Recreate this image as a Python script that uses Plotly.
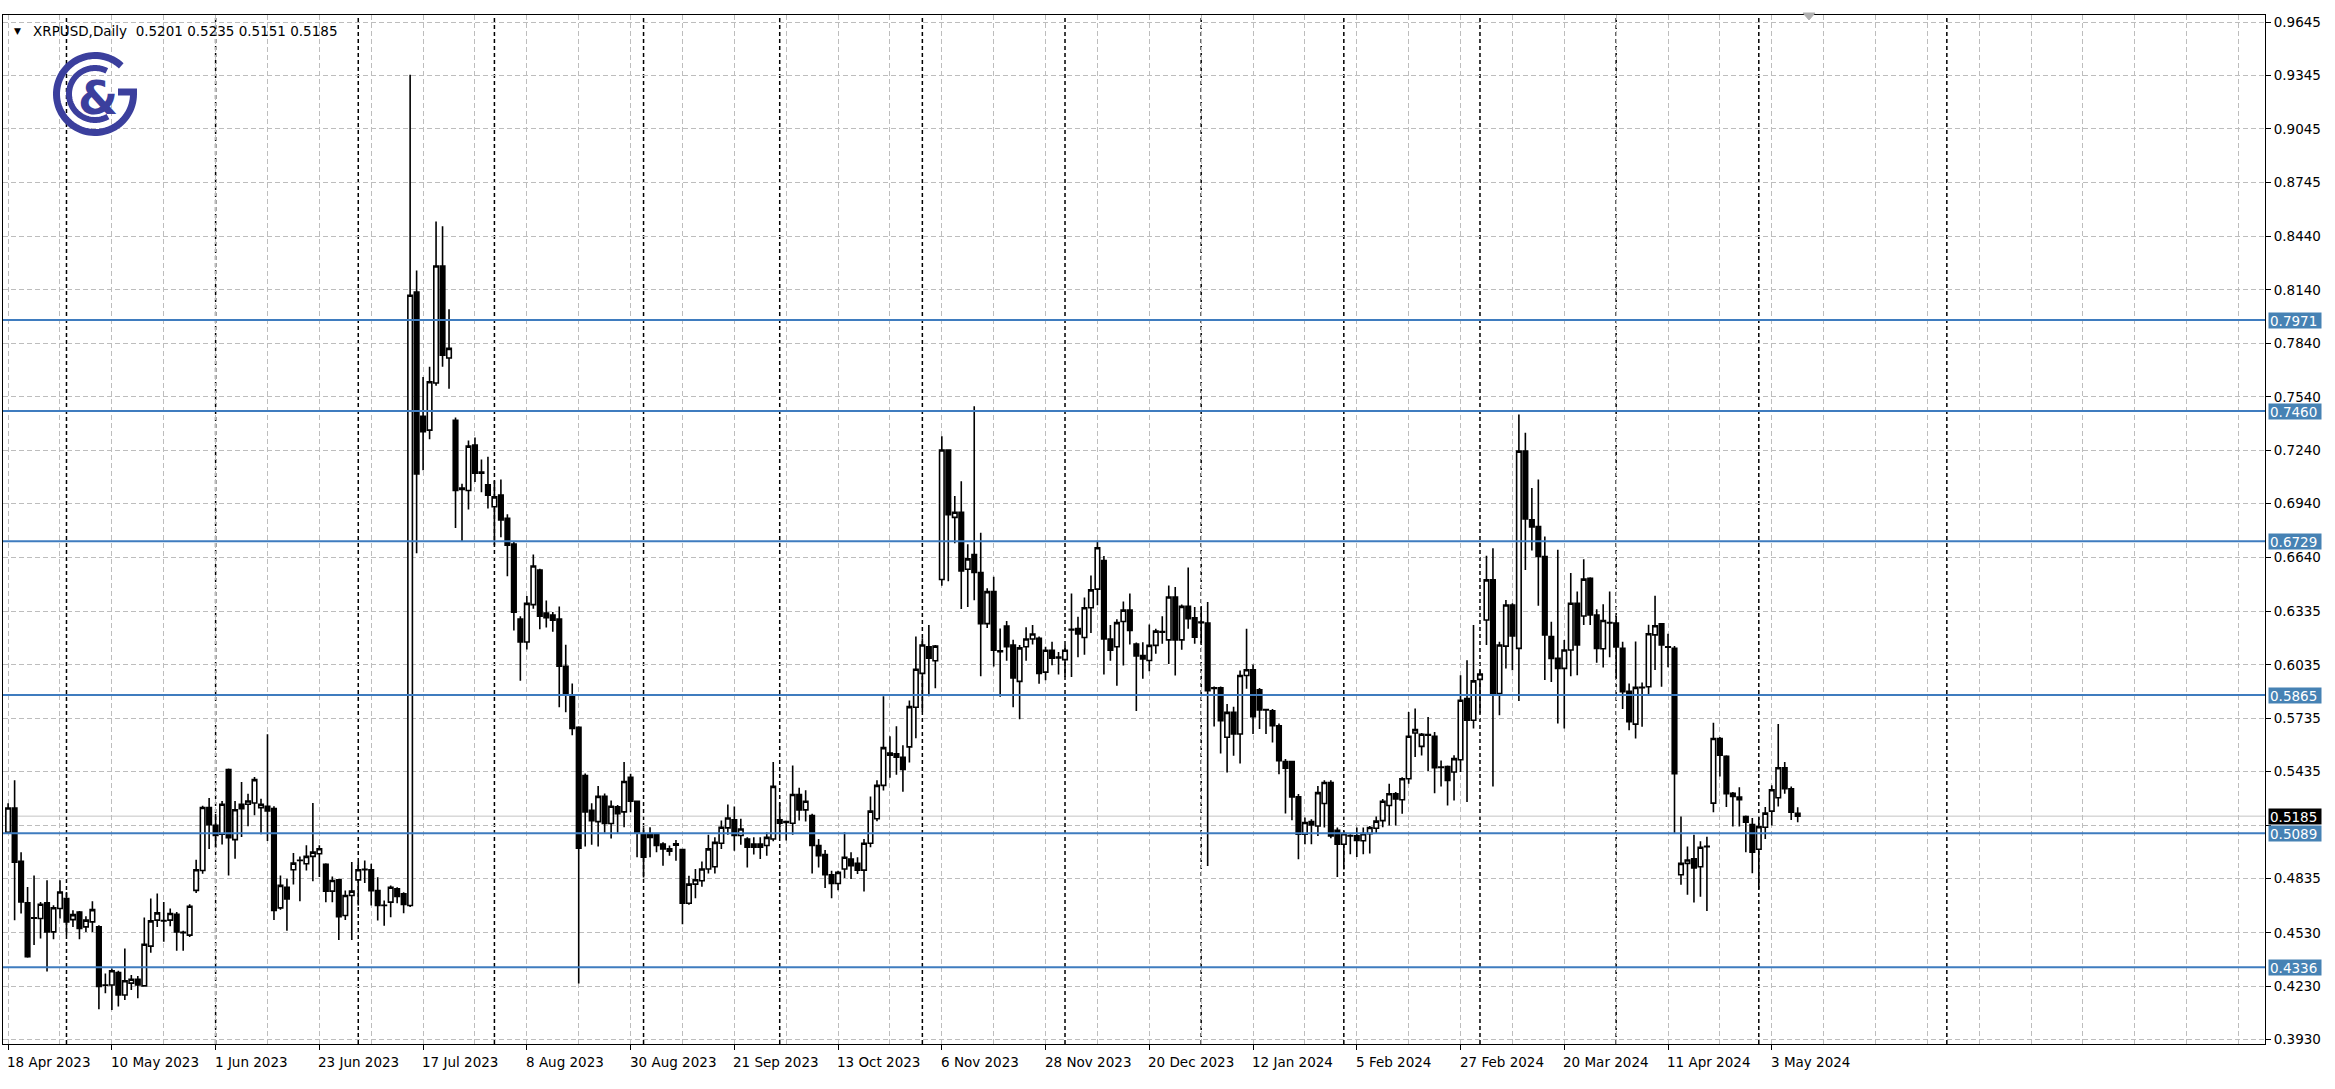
import numpy as np
import pandas as pd
import plotly.graph_objects as go

# ---------------- data ----------------
# daily (weekday) bars, broker closed on 1 Jan 2024
dates = [d for d in pd.bdate_range("2023-04-18", "2024-05-09") if d != pd.Timestamp("2024-01-01")]

opens = [
    0.5095, 0.5231, 0.4932, 0.4698, 0.4612, 0.4610, 0.4698, 0.4535, 0.4666, 0.4722,
    0.4604, 0.4647, 0.4563, 0.4591, 0.4563, 0.4237, 0.4237, 0.4306, 0.4181, 0.4247,
    0.4269, 0.4232, 0.4455, 0.4601, 0.4597, 0.4601, 0.4634, 0.4533, 0.4517, 0.4768,
    0.4880, 0.5234, 0.5133, 0.5083, 0.5447, 0.5053, 0.5252, 0.5252, 0.5259, 0.5233,
    0.5240, 0.5227, 0.4670, 0.4786, 0.4884, 0.4936, 0.4918, 0.4959, 0.4974, 0.4914,
    0.4764, 0.4827, 0.4627, 0.4739, 0.4827, 0.4884, 0.4884, 0.4767, 0.4685, 0.4702,
    0.4777, 0.4749, 0.4683, 0.8129, 0.7431, 0.7353, 0.7618, 0.8275, 0.7758, 0.7408,
    0.7020, 0.7014, 0.7269, 0.7117, 0.7046, 0.6923, 0.6988, 0.6858, 0.6713, 0.6292,
    0.6163, 0.6373, 0.6567, 0.6325, 0.6315, 0.6292, 0.6027, 0.5865, 0.5684, 0.5413,
    0.5218, 0.5154, 0.5296, 0.5144, 0.5238, 0.5209, 0.5403, 0.5269, 0.5085, 0.5080,
    0.5080, 0.5029, 0.5001, 0.5030, 0.4997, 0.4696, 0.4803, 0.4822, 0.4888, 0.4901,
    0.5033, 0.5119, 0.5164, 0.5076, 0.5057, 0.5029, 0.5029, 0.5020, 0.5057, 0.5164,
    0.5150, 0.5145, 0.5307, 0.5220, 0.5189, 0.5020, 0.4969, 0.4856, 0.4807, 0.4888,
    0.4944, 0.4920, 0.4882, 0.5033, 0.5170, 0.5358, 0.5540, 0.5535, 0.5516, 0.5574,
    0.5797, 0.5987, 0.6136, 0.6058, 0.6514, 0.7241, 0.6863, 0.6892, 0.6572, 0.6654,
    0.6553, 0.6266, 0.6446, 0.6108, 0.6252, 0.6146, 0.5942, 0.6136, 0.6180, 0.6184,
    0.5994, 0.6117, 0.6078, 0.6064, 0.6231, 0.6239, 0.6188, 0.6355, 0.6460, 0.6620,
    0.6180, 0.6136, 0.6278, 0.6342, 0.6152, 0.6087, 0.6059, 0.6144, 0.6218, 0.6175,
    0.6416, 0.6175, 0.6363, 0.6299, 0.6275, 0.6269, 0.5906, 0.5906, 0.5628, 0.5768,
    0.5646, 0.5975, 0.6007, 0.5894, 0.5783, 0.5777, 0.5693, 0.5492, 0.5492, 0.5293,
    0.5083, 0.5155, 0.5130, 0.5256, 0.5374, 0.5106, 0.5027, 0.5076, 0.5074, 0.5047,
    0.5087, 0.5117, 0.5160, 0.5245, 0.5311, 0.5277, 0.5395, 0.5652, 0.5577, 0.5640,
    0.5634, 0.5461, 0.5464, 0.5433, 0.5502, 0.5845, 0.5724, 0.5953, 0.6287, 0.6512,
    0.5874, 0.6140, 0.6371, 0.6127, 0.7235, 0.6850, 0.6812, 0.6643, 0.6193, 0.6071,
    0.6015, 0.6118, 0.6381, 0.6309, 0.6521, 0.6315, 0.6125, 0.6272, 0.6270, 0.6128,
    0.5886, 0.5702, 0.5906, 0.5912, 0.6203, 0.6265, 0.6136, 0.6128, 0.4856, 0.4920,
    0.4945, 0.4901, 0.5016, 0.5258, 0.5621, 0.5521, 0.5314, 0.5292, 0.5183, 0.5138,
    0.4999, 0.5123, 0.5213, 0.5288, 0.5457, 0.5339, 0.5201,
]
highs = [
    0.5257, 0.5387, 0.4982, 0.4787, 0.4852, 0.4703, 0.4825, 0.4684, 0.4825, 0.4759,
    0.4657, 0.4653, 0.4623, 0.4707, 0.4573, 0.4302, 0.4330, 0.4317, 0.4442, 0.4293,
    0.4287, 0.4616, 0.4722, 0.4750, 0.4703, 0.4666, 0.4647, 0.4541, 0.4690, 0.4940,
    0.5244, 0.5287, 0.5199, 0.5270, 0.5452, 0.5270, 0.5377, 0.5311, 0.5405, 0.5283,
    0.5645, 0.5240, 0.4852, 0.4833, 0.4978, 0.4959, 0.5021, 0.5259, 0.5021, 0.4921,
    0.4846, 0.4833, 0.4767, 0.4927, 0.4927, 0.4936, 0.4917, 0.4842, 0.4711, 0.4796,
    0.4786, 0.4758, 0.9349, 0.8249, 0.7651, 0.7709, 0.8524, 0.8498, 0.8032, 0.7424,
    0.7052, 0.7295, 0.7311, 0.7188, 0.7204, 0.7069, 0.7075, 0.6881, 0.6729, 0.6308,
    0.6422, 0.6655, 0.6574, 0.6396, 0.6331, 0.6363, 0.6147, 0.5930, 0.5690, 0.5425,
    0.5257, 0.5354, 0.5312, 0.5273, 0.5247, 0.5489, 0.5423, 0.5273, 0.5123, 0.5123,
    0.5089, 0.5038, 0.5020, 0.5051, 0.4999, 0.4850, 0.4888, 0.4931, 0.5081, 0.5066,
    0.5160, 0.5251, 0.5239, 0.5170, 0.5066, 0.5066, 0.5066, 0.5095, 0.5489, 0.5262,
    0.5160, 0.5470, 0.5345, 0.5330, 0.5198, 0.5057, 0.4995, 0.4878, 0.4878, 0.5095,
    0.4982, 0.4954, 0.5057, 0.5296, 0.5386, 0.5859, 0.5634, 0.5690, 0.5583, 0.5835,
    0.6194, 0.6184, 0.6258, 0.6146, 0.7318, 0.7245, 0.6983, 0.7066, 0.6712, 0.7487,
    0.6776, 0.6465, 0.6529, 0.6239, 0.6281, 0.6175, 0.6146, 0.6246, 0.6258, 0.6194,
    0.6136, 0.6165, 0.6107, 0.6146, 0.6436, 0.6305, 0.6413, 0.6537, 0.6731, 0.6646,
    0.6258, 0.6291, 0.6390, 0.6436, 0.6160, 0.6162, 0.6262, 0.6237, 0.6307, 0.6481,
    0.6472, 0.6374, 0.6581, 0.6359, 0.6359, 0.6387, 0.5913, 0.5913, 0.5815, 0.5800,
    0.6003, 0.6237, 0.6037, 0.5905, 0.5787, 0.5787, 0.5706, 0.5506, 0.5496, 0.5309,
    0.5177, 0.5168, 0.5355, 0.5387, 0.5387, 0.5121, 0.5102, 0.5083, 0.5121, 0.5121,
    0.5130, 0.5183, 0.5282, 0.5367, 0.5320, 0.5404, 0.5770, 0.5789, 0.5652, 0.5742,
    0.5658, 0.5498, 0.5470, 0.5527, 0.5977, 0.6061, 0.6259, 0.6005, 0.6647, 0.6690,
    0.6165, 0.6399, 0.6381, 0.7441, 0.7338, 0.7028, 0.7075, 0.6756, 0.6277, 0.6681,
    0.6174, 0.6550, 0.6446, 0.6628, 0.6527, 0.6347, 0.6375, 0.6446, 0.6310, 0.6165,
    0.5930, 0.6166, 0.5935, 0.6260, 0.6423, 0.6269, 0.6209, 0.6141, 0.5183, 0.5014,
    0.5081, 0.5044, 0.5070, 0.5709, 0.5630, 0.5527, 0.5320, 0.5348, 0.5189, 0.5175,
    0.5179, 0.5236, 0.5358, 0.5702, 0.5489, 0.5352, 0.5235,
]
lows = [
    0.5085, 0.4601, 0.4638, 0.4390, 0.4461, 0.4498, 0.4312, 0.4493, 0.4610, 0.4517,
    0.4563, 0.4493, 0.4535, 0.4535, 0.4101, 0.4191, 0.4097, 0.4116, 0.4153, 0.4209,
    0.4163, 0.4228, 0.4418, 0.4563, 0.4479, 0.4567, 0.4429, 0.4429, 0.4507, 0.4754,
    0.4862, 0.5001, 0.5011, 0.5026, 0.4852, 0.4946, 0.5068, 0.5128, 0.5190, 0.5083,
    0.5045, 0.4602, 0.4659, 0.4542, 0.4801, 0.4707, 0.4880, 0.4820, 0.4843, 0.4702,
    0.4702, 0.4490, 0.4602, 0.4490, 0.4683, 0.4809, 0.4683, 0.4599, 0.4570, 0.4617,
    0.4696, 0.4640, 0.4675, 0.6661, 0.7127, 0.7301, 0.7602, 0.7709, 0.7586, 0.6803,
    0.6729, 0.6907, 0.7062, 0.7004, 0.6913, 0.6706, 0.6752, 0.6532, 0.6228, 0.5946,
    0.6121, 0.6350, 0.6234, 0.6244, 0.6221, 0.5797, 0.5768, 0.5639, 0.4245, 0.5015,
    0.5024, 0.5015, 0.5092, 0.5060, 0.5092, 0.5123, 0.5207, 0.4954, 0.4841, 0.4954,
    0.4982, 0.4907, 0.4963, 0.4935, 0.4578, 0.4687, 0.4724, 0.4788, 0.4863, 0.4863,
    0.5001, 0.5081, 0.4991, 0.5025, 0.4897, 0.4969, 0.4944, 0.4963, 0.5044, 0.5066,
    0.5048, 0.5081, 0.5160, 0.5155, 0.4863, 0.4897, 0.4781, 0.4724, 0.4769, 0.4837,
    0.4832, 0.4860, 0.4762, 0.5010, 0.5157, 0.5329, 0.5400, 0.5418, 0.5322, 0.5486,
    0.5622, 0.5773, 0.5859, 0.5903, 0.6479, 0.6504, 0.6717, 0.6349, 0.6359, 0.6398,
    0.5971, 0.6242, 0.6025, 0.5855, 0.6058, 0.5797, 0.5729, 0.6058, 0.6149, 0.5928,
    0.5948, 0.6033, 0.5981, 0.5967, 0.5967, 0.6078, 0.6091, 0.6213, 0.6369, 0.5981,
    0.6058, 0.5917, 0.6031, 0.6149, 0.5776, 0.5956, 0.5999, 0.6097, 0.6153, 0.6040,
    0.5975, 0.6119, 0.6237, 0.6153, 0.6153, 0.4905, 0.5688, 0.5537, 0.5430, 0.5524,
    0.5481, 0.5900, 0.5646, 0.5674, 0.5646, 0.5599, 0.5421, 0.5200, 0.5162, 0.4943,
    0.5027, 0.5027, 0.5074, 0.5121, 0.5061, 0.4843, 0.4886, 0.4971, 0.4956, 0.4971,
    0.4975, 0.5086, 0.5123, 0.5132, 0.5132, 0.5198, 0.5367, 0.5517, 0.5526, 0.5438,
    0.5314, 0.5352, 0.5245, 0.5273, 0.5433, 0.5264, 0.5677, 0.5761, 0.6146, 0.5352,
    0.5752, 0.6014, 0.6005, 0.5832, 0.6568, 0.6677, 0.6366, 0.5949, 0.5939, 0.5705,
    0.5677, 0.5971, 0.5977, 0.6258, 0.6259, 0.6046, 0.6020, 0.6078, 0.5960, 0.5787,
    0.5668, 0.5621, 0.5687, 0.5871, 0.6006, 0.5912, 0.6021, 0.5085, 0.4800, 0.4743,
    0.4700, 0.4732, 0.4653, 0.5207, 0.5408, 0.5236, 0.5127, 0.5127, 0.4982, 0.4864,
    0.4775, 0.5057, 0.5132, 0.5239, 0.5311, 0.5164, 0.5151,
]
closes = [
    0.5231, 0.4927, 0.4703, 0.4396, 0.4614, 0.4690, 0.4535, 0.4671, 0.4759, 0.4591,
    0.4632, 0.4554, 0.4601, 0.4660, 0.4228, 0.4235, 0.4317, 0.4181, 0.4261, 0.4269,
    0.4237, 0.4466, 0.4597, 0.4642, 0.4598, 0.4638, 0.4535, 0.4530, 0.4679, 0.4884,
    0.5234, 0.5137, 0.5077, 0.5252, 0.5064, 0.5221, 0.5227, 0.5270, 0.5390, 0.5252,
    0.5214, 0.4655, 0.4796, 0.4720, 0.4921, 0.4937, 0.4959, 0.4983, 0.5002, 0.4764,
    0.4824, 0.4621, 0.4739, 0.4764, 0.4884, 0.4886, 0.4767, 0.4683, 0.4683, 0.4786,
    0.4734, 0.4689, 0.8110, 0.7107, 0.7344, 0.7625, 0.8275, 0.7774, 0.7812, 0.7014,
    0.7027, 0.7263, 0.7111, 0.7111, 0.6988, 0.6978, 0.6849, 0.6706, 0.6331, 0.6163,
    0.6380, 0.6590, 0.6308, 0.6299, 0.6286, 0.6027, 0.5872, 0.5678, 0.5005, 0.5209,
    0.5160, 0.5296, 0.5144, 0.5241, 0.5199, 0.5380, 0.5269, 0.5089, 0.4954, 0.5066,
    0.5020, 0.5001, 0.4988, 0.5022, 0.4696, 0.4803, 0.4828, 0.4888, 0.5001, 0.5038,
    0.5123, 0.5175, 0.5076, 0.5113, 0.5010, 0.5010, 0.5011, 0.5066, 0.5352, 0.5145,
    0.5155, 0.5307, 0.5220, 0.5269, 0.5020, 0.4963, 0.4856, 0.4807, 0.4869, 0.4954,
    0.4907, 0.4882, 0.5033, 0.5213, 0.5358, 0.5570, 0.5527, 0.5516, 0.5447, 0.5800,
    0.6010, 0.6146, 0.6072, 0.6140, 0.7241, 0.6878, 0.6892, 0.6562, 0.6630, 0.6553,
    0.6266, 0.6446, 0.6117, 0.6113, 0.6136, 0.5961, 0.6130, 0.6180, 0.6208, 0.5987,
    0.6117, 0.6072, 0.6074, 0.6117, 0.6235, 0.6208, 0.6355, 0.6456, 0.6692, 0.6180,
    0.6117, 0.6272, 0.6342, 0.6228, 0.6085, 0.6068, 0.6144, 0.6224, 0.6222, 0.6416,
    0.6175, 0.6363, 0.6294, 0.6190, 0.6271, 0.5890, 0.5902, 0.5721, 0.5768, 0.5646,
    0.5975, 0.6007, 0.5744, 0.5781, 0.5781, 0.5693, 0.5496, 0.5455, 0.5293, 0.5083,
    0.5149, 0.5136, 0.5317, 0.5374, 0.5074, 0.5027, 0.5087, 0.5074, 0.5049, 0.5087,
    0.5121, 0.5157, 0.5269, 0.5311, 0.5282, 0.5395, 0.5634, 0.5671, 0.5645, 0.5643,
    0.5457, 0.5459, 0.5385, 0.5508, 0.5836, 0.5724, 0.5945, 0.5983, 0.6512, 0.5864,
    0.6146, 0.6371, 0.6197, 0.7235, 0.6854, 0.6809, 0.6643, 0.6202, 0.6071, 0.6015,
    0.6118, 0.6381, 0.6146, 0.6516, 0.6315, 0.6127, 0.6284, 0.6270, 0.6135, 0.5884,
    0.5715, 0.5908, 0.5908, 0.6209, 0.6254, 0.6147, 0.6134, 0.5423, 0.4920, 0.4939,
    0.4894, 0.5010, 0.5014, 0.5621, 0.5527, 0.5311, 0.5296, 0.5277, 0.5151, 0.4982,
    0.5126, 0.5202, 0.5333, 0.5457, 0.5339, 0.5207, 0.5185,
]

levels = [0.7971, 0.7460, 0.6729, 0.5865, 0.5089, 0.4336]
price_ticks = [0.9645, 0.9345, 0.9045, 0.8745, 0.8440, 0.8140, 0.7840, 0.7540, 0.7240, 0.6940,
               0.6640, 0.6335, 0.6035, 0.5735, 0.5435, 0.5130, 0.4835, 0.4530, 0.4230, 0.3930]
# the 0.5130 scale label is hidden behind the price boxes in the original terminal
hidden_tick_labels = [0.5130]
date_labels = ["18 Apr 2023", "10 May 2023", "1 Jun 2023", "23 Jun 2023", "17 Jul 2023",
               "8 Aug 2023", "30 Aug 2023", "21 Sep 2023", "13 Oct 2023", "6 Nov 2023",
               "28 Nov 2023", "20 Dec 2023", "12 Jan 2024", "5 Feb 2024", "27 Feb 2024",
               "20 Mar 2024", "11 Apr 2024", "3 May 2024"]
symbol = "XRPUSD,Daily"

# ---------------- layout geometry ----------------
W_FIG, H_FIG = 2335, 1089
M_L, M_R, M_T, M_B = 3, 70, 15, 45
PW = W_FIG - M_L - M_R
PH = H_FIG - M_T - M_B
LABEL_STEP = 16
GRID_STEP = 8
X_RANGE = [-0.79, 348.07]
Y_RANGE = [0.39054, 0.96843]
FONT = "DejaVu Sans"
FS = 13.5
GRID = "#bdbdbd"
LEVEL_COLOR = "#3f7cbf"
LOGO = "#3b3f9d"

n = len(closes)
xs = list(range(n))


def paper(px, py):
    return (px - M_L) / PW, (H_FIG - M_B - py) / PH


fig = go.Figure()
fig.add_trace(go.Candlestick(
    x=xs, open=opens, high=highs, low=lows, close=closes,
    increasing=dict(line=dict(color="black", width=1.6), fillcolor="white"),
    decreasing=dict(line=dict(color="black", width=1.6), fillcolor="black"),
    whiskerwidth=0, hoverinfo="skip", showlegend=False,
))

shapes = []
annotations = []

# month period separators (first bar of each month) + first projected one
month_starts = [i for i in range(1, n) if dates[i].month != dates[i - 1].month]
future = pd.date_range(dates[-1] + pd.Timedelta(days=1), periods=40, freq="D")
for j in range(1, len(future)):
    if future[j].month != future[j - 1].month:
        month_starts.append(n + j)
        break
for b in month_starts:
    shapes.append(dict(type="line", xref="x", yref="paper", x0=b, x1=b, y0=0, y1=1,
                       line=dict(color="black", width=1.5, dash="4px,3px"), layer="below"))

# bid line
shapes.append(dict(type="line", xref="paper", yref="y", x0=0, x1=1, y0=closes[-1], y1=closes[-1],
                   line=dict(color="#c4c4c4", width=1), layer="below"))

# horizontal levels
for lv in levels:
    shapes.append(dict(type="line", xref="paper", yref="y", x0=0, x1=1, y0=lv, y1=lv,
                       line=dict(color=LEVEL_COLOR, width=2), layer="above"))
    annotations.append(dict(xref="paper", yref="y", x=1, y=lv, xanchor="left", yanchor="middle",
                            xshift=3, text=f"{lv:.4f}", showarrow=False, align="left",
                            font=dict(family=FONT, size=FS, color="white"),
                            bgcolor="#4682b4", borderpad=1, width=50, height=13))
annotations.append(dict(xref="paper", yref="y", x=1, y=closes[-1], xanchor="left", yanchor="middle",
                        xshift=3, text=f"{closes[-1]:.4f}", showarrow=False, align="left",
                        font=dict(family=FONT, size=FS, color="white"),
                        bgcolor="black", borderpad=1, width=50, height=13))

# date labels
label_pos = [i * LABEL_STEP for i in range(len(date_labels))]
for p, t in zip(label_pos, date_labels):
    annotations.append(dict(xref="x", yref="paper", x=p, y=0, xanchor="left", yanchor="top",
                            xshift=-3, yshift=-8, text=t, showarrow=False,
                            font=dict(family=FONT, size=FS, color="black")))

# header
hx, hy = paper(12, 31)
annotations.append(dict(xref="paper", yref="paper", x=hx, y=hy, xanchor="left", yanchor="middle",
                        text="\u25BC", showarrow=False, font=dict(family=FONT, size=9, color="black")))
hx, hy = paper(31, 31)
header = symbol + "\u00a0\u00a0" + " ".join(f"{v:.4f}" for v in (opens[-1], highs[-1], lows[-1], closes[-1]))
annotations.append(dict(xref="paper", yref="paper", x=hx, y=hy, xanchor="left", yanchor="middle",
                        text=header, showarrow=False, font=dict(family=FONT, size=FS, color="black")))

# logo (G ring + inner arc + ampersand)
cx, cy = 95, 94


def arc_path(r, a0, a1, extra=None):
    ang = np.radians(np.linspace(a0, a1, 80))
    pts = [paper(cx + r * np.cos(a), cy - r * np.sin(a)) for a in ang]
    if extra:
        pts += [paper(*e) for e in extra]
    return "M " + " L ".join(f"{x:.5f},{y:.5f}" for x, y in pts)


shapes.append(dict(type="path", xref="paper", yref="paper",
                   path=arc_path(38.5, 47, 360, extra=[(cx + 38.5, cy - 2), (118, cy - 2)]),
                   line=dict(color=LOGO, width=7), layer="above"))
shapes.append(dict(type="path", xref="paper", yref="paper",
                   path=arc_path(26, 63, 300),
                   line=dict(color=LOGO, width=6), layer="above"))
ax, ay = paper(98, 98)
annotations.append(dict(xref="paper", yref="paper", x=ax, y=ay, xanchor="center", yanchor="middle",
                        text="<b>&</b>", showarrow=False, font=dict(family=FONT, size=46, color=LOGO)))

# chart-shift marker at top
t1, t2, t3 = paper(1803, 13), paper(1815, 13), paper(1809, 20)
shapes.append(dict(type="path", xref="paper", yref="paper",
                   path=f"M {t1[0]},{t1[1]} L {t2[0]},{t2[1]} L {t3[0]},{t3[1]} Z",
                   fillcolor="#b0b0b0", line=dict(color="#b0b0b0", width=1), layer="above"))

fig.update_layout(
    width=W_FIG, height=H_FIG,
    margin=dict(l=M_L, r=M_R, t=M_T, b=M_B),
    paper_bgcolor="white", plot_bgcolor="white",
    showlegend=False, hovermode=False,
    boxgap=0.3, boxgroupgap=0.0,
    shapes=shapes, annotations=annotations,
    font=dict(family=FONT, size=FS, color="black"),
)
fig.update_xaxes(
    range=X_RANGE, rangeslider_visible=False,
    tickmode="array", tickvals=label_pos, ticks="outside", ticklen=5, tickcolor="black", tickwidth=1,
    showticklabels=False,
    showgrid=True, gridcolor=GRID, gridwidth=1, griddash="5px,3px",
    minor=dict(tickmode="array", tickvals=list(range(0, int(X_RANGE[1]) + 1, GRID_STEP)),
               showgrid=True, gridcolor=GRID, gridwidth=1, griddash="5px,3px", ticks=""),
    showline=True, linecolor="black", linewidth=1, mirror=True, zeroline=False,
)
fig.update_yaxes(
    side="right", range=Y_RANGE,
    tickmode="array", tickvals=price_ticks,
    ticktext=["" if v in hidden_tick_labels else f"{v:.4f}" for v in price_ticks],
    ticks="outside", ticklen=5, tickcolor="black", tickwidth=1,
    tickfont=dict(family=FONT, size=FS, color="black"),
    showgrid=True, gridcolor=GRID, gridwidth=1, griddash="5px,3px",
    showline=True, linecolor="black", linewidth=1, mirror=True, zeroline=False,
)

fig.write_html("out.html", config={"displayModeBar": False},
               post_script="document.body.style.margin='0';")
